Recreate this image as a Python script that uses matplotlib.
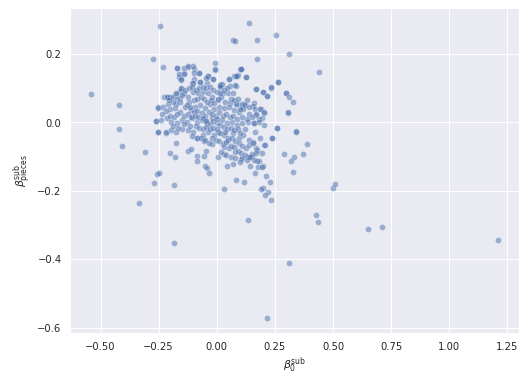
import matplotlib
matplotlib.use("Agg")
import matplotlib.pyplot as plt
import seaborn as sns

# --- outlying / sparse points ---
x_out = [-0.245, 0.069, 0.079, -0.275, -0.232, -0.543, -0.422, -0.422, -0.254, -0.172, -0.124, -0.007, -0.006,
         -0.099, -0.077, -0.143, -0.163, -0.156, -0.039, -0.098, -0.107, -0.073, -0.040, -0.016, 0.053, 0.076,
         0.092, 0.102, 0.082, 0.013, 0.019, -0.153, -0.157, -0.176, -0.159, -0.212, -0.225, -0.200,
         0.140, 0.174, 0.256, 0.313, 0.174, 0.438, 0.105, 0.088, 0.127, 0.170, 0.200, 0.217, 0.235, 0.265,
         0.300, 0.330, 0.308, 0.161, 0.157, 0.118, 0.088, 0.109, 0.189, 0.205, 0.170, 0.195, 0.183, 0.161,
         0.261, 0.339, 0.343, 0.239, 0.390, 0.205, 0.157, 0.170, 0.196, 0.291, 0.334, 0.369, 0.321, 0.330,
         0.213, 0.230, 0.200, 0.192, 0.222, 0.209, 0.235, 0.083, 0.118, 0.163, 0.199, 0.179, 0.144, 0.183,
         0.174, 0.135, 0.153, 0.105, 0.499, 0.511, 0.429, 0.434, 0.650, 0.710, 0.135, 1.212, 0.216, 0.311,
         -0.409, -0.310, -0.336, -0.185, -0.185, -0.271, -0.258, -0.249, -0.254, -0.217, -0.202, -0.180,
         -0.176, -0.124, -0.111, -0.085, -0.085, -0.053, -0.046, -0.020, -0.055, -0.085, 0.007, 0.046,
         -0.049, -0.042, -0.033, 0.032, 0.033, -0.262, -0.046]
y_out = [0.283, 0.242, 0.239, 0.187, 0.161, 0.082, 0.050, -0.019, 0.044, 0.158, 0.163, 0.173, 0.154,
         0.155, 0.146, 0.144, 0.132, 0.124, 0.137, 0.126, 0.114, 0.117, 0.116, 0.128, 0.126, 0.137,
         0.139, 0.156, 0.108, 0.111, 0.111, 0.099, 0.092, 0.084, 0.071, 0.075, 0.075, 0.075,
         0.292, 0.242, 0.257, 0.199, 0.187, 0.149, 0.155, 0.137, 0.134, 0.099, 0.088, 0.076, 0.102, 0.117,
         0.085, 0.061, 0.029, 0.058, 0.047, 0.055, 0.055, 0.044, 0.038, 0.029, 0.023, 0.013, 0.009, -0.003,
         -0.015, -0.025, -0.029, -0.044, -0.064, -0.067, -0.058, -0.076, -0.088, -0.091, -0.102, -0.091, -0.114, -0.146,
         -0.158, -0.175, -0.191, -0.196, -0.204, -0.213, -0.228, -0.169, -0.175, -0.149, -0.128, -0.131, -0.126, -0.114,
         -0.114, -0.102, -0.099, -0.108, -0.193, -0.180, -0.272, -0.292, -0.312, -0.307, -0.286, -0.345, -0.572, -0.411,
         -0.070, -0.085, -0.236, -0.353, -0.184, -0.178, -0.152, -0.149, -0.029, -0.032, -0.088, -0.102,
         -0.061, -0.082, -0.079, -0.099, -0.114, -0.099, -0.082, -0.064, -0.054, -0.044, -0.102, -0.126,
         -0.126, -0.134, -0.149, -0.196, -0.091, 0.003, 0.003]

# --- dense core points ---
x_core = [-0.170, -0.141, -0.124, -0.161, -0.140, -0.101, -0.099, -0.076, -0.037, -0.006, -0.016, 0.023, 0.053,
          0.084, 0.105, 0.127, 0.079, 0.055, 0.014, -0.048, -0.073, -0.101, -0.154, -0.153,
          -0.216, -0.187, -0.177, -0.173, -0.140, -0.122, -0.101, -0.079, -0.058, -0.036, -0.022, 0.014, 0.026,
          0.048, 0.072, 0.036, 0.004, 0.059, 0.084, 0.108, 0.130, 0.170, 0.200, 0.218, 0.235, 0.265, 0.300, 0.313,
          -0.254, -0.231, -0.212, -0.202, -0.180, -0.159, -0.137, -0.111, -0.094, -0.072, -0.050, -0.029, -0.010,
          0.010, 0.033, 0.053, 0.076, 0.097, 0.115, 0.137, 0.163, 0.187, 0.205, 0.308, 0.171,
          -0.262, -0.238, -0.216, -0.195, -0.173, -0.151, -0.130, -0.108, -0.086, -0.065, -0.043, -0.022, 0.000,
          0.022, 0.043, 0.065, 0.086, 0.108, 0.134, 0.159, 0.180, 0.202, 0.259, 0.239,
          -0.254, -0.220, -0.197, -0.176, -0.151, -0.122, -0.101, -0.086, -0.058, -0.036, -0.014, 0.007, 0.029,
          0.050, 0.072, 0.094, 0.115, 0.137, 0.163, 0.187, 0.206,
          0.033, 0.053, 0.079, 0.108, 0.137, 0.151, 0.173, 0.195,
          -0.12, -0.10, -0.085, -0.07, -0.055, -0.04, -0.025, -0.01, 0.005, 0.02,
          -0.13, -0.115, -0.10, -0.085, -0.065, -0.05, -0.035, -0.02, -0.005, 0.01,
          0.025, 0.04, 0.055, 0.07, 0.085, -0.14, -0.125, -0.11, -0.095, -0.08,
          -0.06, -0.045, -0.03, -0.015, 0.0, 0.015, 0.03, 0.045, 0.06, 0.075,
          0.09, 0.1, 0.12, -0.09, -0.075, -0.06, -0.045, -0.03, -0.015, 0.0,
          0.015, 0.035, 0.05, 0.065, 0.08, 0.095, 0.11, 0.125, 0.14, 0.155,
          -0.02, -0.005, 0.01, 0.025, 0.04, 0.06, 0.075, 0.09, 0.105, 0.12,
          0.13, 0.145, 0.16, 0.17, 0.1, -0.16, -0.175, -0.19, -0.205, -0.15,
          -0.135, -0.12, -0.105, -0.09, -0.075, -0.06, -0.045, -0.03, -0.015, 0.0,
          0.015, 0.03, 0.045, 0.06, 0.075, 0.09, 0.1, 0.12, 0.14, 0.15,
          0.13, 0.11, -0.2, -0.185, -0.17, -0.22, -0.235, -0.19, -0.165, -0.14,
          -0.115, -0.105, -0.07, -0.05, -0.035, 0.02, 0.04, 0.06, 0.08, 0.07]
y_core = [0.158, 0.160, 0.164, 0.143, 0.143, 0.164, 0.146, 0.146, 0.137, 0.155, 0.128, 0.113, 0.126,
          0.137, 0.155, 0.134, 0.110, 0.108, 0.111, 0.129, 0.117, 0.114, 0.126, 0.101,
          0.075, 0.075, 0.087, 0.069, 0.087, 0.075, 0.090, 0.085, 0.090, 0.085, 0.075, 0.104, 0.087,
          0.087, 0.085, 0.060, 0.065, 0.058, 0.055, 0.055, 0.065, 0.097, 0.089, 0.077, 0.104, 0.117, 0.085, 0.075,
          0.043, 0.046, 0.053, 0.038, 0.041, 0.031, 0.044, 0.036, 0.046, 0.051, 0.041, 0.053, 0.038,
          0.046, 0.041, 0.046, 0.036, 0.031, 0.038, 0.026, 0.038, 0.038, 0.031, 0.030, 0.024,
          0.003, 0.007, 0.012, 0.002, -0.003, 0.007, 0.002, 0.012, 0.002, 0.007, -0.001, 0.012, -0.001,
          0.007, -0.003, 0.002, -0.008, -0.003, 0.002, -0.003, 0.002, -0.008, -0.015, -0.044,
          -0.029, -0.027, -0.022, -0.027, -0.018, -0.022, -0.027, -0.044, -0.037, -0.027, -0.037, -0.027, -0.037,
          -0.044, -0.032, -0.044, -0.037, -0.052, -0.027, -0.044, -0.067,
          -0.071, -0.076, -0.086, -0.105, -0.100, -0.091, -0.081, -0.129,
          0.06, 0.065, 0.07, 0.075, 0.068, 0.06, 0.065, 0.058, 0.07, 0.075,
          0.05, 0.045, 0.03, 0.035, 0.028, 0.02, 0.03, 0.025, 0.02, 0.03,
          0.02, 0.025, 0.015, 0.02, 0.01, 0.02, 0.025, 0.015, 0.02, 0.015,
          0.012, 0.005, -0.005, 0.005, 0.01, -0.008, -0.012, -0.02, -0.015, -0.022,
          -0.018, -0.03, -0.02, -0.01, -0.015, -0.02, -0.012, -0.02, -0.015, -0.018,
          -0.03, -0.028, -0.052, -0.045, -0.055, -0.06, -0.068, -0.075, -0.065, -0.06,
          -0.045, -0.05, -0.055, -0.062, -0.058, -0.068, -0.072, -0.082, -0.09, -0.095,
          -0.11, -0.1, -0.11, -0.09, -0.115, 0.06, 0.055, 0.06, 0.065, 0.08,
          0.095, 0.1, 0.105, 0.095, 0.1, 0.105, 0.1, 0.105, 0.095, 0.09,
          0.085, 0.095, 0.1, 0.07, 0.065, 0.07, 0.04, 0.05, 0.045, 0.015,
          0.01, 0.015, 0.02, 0.015, 0.025, 0.035, 0.025, -0.01, -0.015, -0.005,
          -0.01, -0.04, -0.045, -0.05, -0.06, -0.085, -0.095, -0.1, -0.105, -0.12]

x_all = x_out + x_core
y_all = y_out + y_core

sns.set_theme(style="darkgrid")
fig = plt.figure(figsize=(8.0, 5.85), dpi=65.5)
ax = fig.add_subplot(111)
fig.subplots_adjust(left=0.134, right=0.99, top=0.979, bottom=0.131)
sns.scatterplot(x=x_all, y=y_all, alpha=0.5, s=46, ax=ax)
ax.set_xlabel(r"$\beta^{\rm sub}_0$")
ax.set_ylabel(r"$\beta^{\rm sub}_{\rm pieces}$")
fig.savefig("out.png", dpi=65.5)
